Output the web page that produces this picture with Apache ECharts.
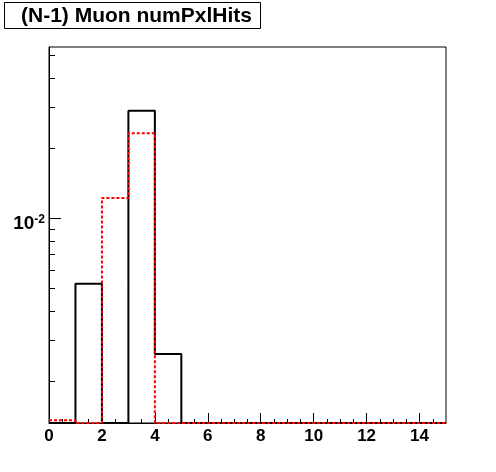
<!DOCTYPE html>
<html><head><meta charset="utf-8">
<script src="https://cdn.jsdelivr.net/npm/echarts@6/dist/echarts.min.js"></script>
<style>html,body{margin:0;padding:0;background:#fff}#c{width:496px;height:472px}</style>
</head><body><div id="c"></div>
<script>
// ---- data ----
const binEdges = [0,1,2,3,4,5,6,7,8,9,10,11,12,13,14,15];
const blackValues = [0, 0.00524, 0, 0.0289, 0.00262, 0, 0, 0, 0, 0, 0, 0, 0, 0, 0];
const redValues   = [0.00136, 0, 0.01222, 0.02314, 0, 0, 0, 0, 0, 0, 0, 0, 0, 0, 0];
const xMajorTicks = [0, 2, 4, 6, 8, 10, 12, 14];
const xMinorTicks = [0.5,1,1.5,2.5,3,3.5,4.5,5,5.5,6.5,7,7.5,8.5,9,9.5,10.5,11,11.5,12.5,13,13.5,14.5];
const yMajorTicks = [0.01];
const yMinorTicks = [0.002,0.003,0.004,0.005,0.006,0.007,0.008,0.009,0.02,0.03,0.04,0.05];
const titleText = '(N-1) Muon numPxlHits';
const Y_MIN = 1.325e-3, Y_MAX = 0.0543;
const X_MIN = 0, X_MAX = 15;

function stepData(values) {
  const pts = [];
  for (let i = 0; i < values.length; i++) {
    const v = values[i] > Y_MIN ? values[i] : Y_MIN;
    pts.push([binEdges[i], v], [binEdges[i + 1], v]);
  }
  return pts;
}

const FONT = '"Liberation Sans", Arial, Helvetica, sans-serif';
const chart = echarts.init(document.getElementById('c'), null, {renderer: 'canvas'});
const baseX = {type: 'value', min: X_MIN, max: X_MAX, position: 'bottom', splitLine: {show: false}};
const baseY = {type: 'log', logBase: 10, min: Y_MIN, max: Y_MAX, position: 'left', splitLine: {show: false}};
chart.setOption({
  animation: false,
  backgroundColor: '#fff',
  grid: {left: 49, top: 47, width: 397, height: 376, show: true, borderColor: '#000', borderWidth: 1, backgroundColor: 'transparent'},
  xAxis: [
    Object.assign({}, baseX, {
      axisLine: {show: true, lineStyle: {color: '#000', width: 1}},
      axisTick: {show: true, inside: true, length: 10, customValues: xMajorTicks, lineStyle: {color: '#000', width: 1}},
      axisLabel: {show: true, customValues: xMajorTicks, margin: 5, color: '#000', fontSize: 17, fontWeight: 'bold', fontFamily: FONT}
    }),
    Object.assign({}, baseX, {
      axisLine: {show: false},
      axisTick: {show: true, inside: true, length: 4, customValues: xMinorTicks, lineStyle: {color: '#000', width: 1}},
      axisLabel: {show: false}
    })
  ],
  yAxis: [
    Object.assign({}, baseY, {
      axisLine: {show: true, lineStyle: {color: '#000', width: 1}},
      axisTick: {show: true, inside: true, length: 12, customValues: yMajorTicks, lineStyle: {color: '#000', width: 1}},
      axisLabel: {
        show: true, customValues: yMajorTicks, margin: 4, color: '#000', padding: [10, 0, 0, 0],
        formatter: function (v) { return '{b|10}{s|' + Math.round(Math.log10(v)) + '}'; },
        rich: {
          b: {fontSize: 19, fontWeight: 'bold', fontFamily: FONT, color: '#000', verticalAlign: 'bottom', lineHeight: 19},
          s: {fontSize: 12, fontWeight: 'bold', fontFamily: FONT, color: '#000', verticalAlign: 'top', lineHeight: 19}
        }
      }
    }),
    Object.assign({}, baseY, {
      axisLine: {show: false},
      axisTick: {show: true, inside: true, length: 6, customValues: yMinorTicks, lineStyle: {color: '#000', width: 1}},
      axisLabel: {show: false}
    })
  ],
  series: [
    {type: 'line', xAxisIndex: 0, yAxisIndex: 0, data: stepData(blackValues), showSymbol: false, symbol: 'none',
     lineStyle: {color: '#000', width: 2}, clip: true, z: 3},
    {type: 'line', xAxisIndex: 0, yAxisIndex: 0, data: stepData(redValues), showSymbol: false, symbol: 'none',
     lineStyle: {color: '#ff0000', width: 2, type: [3, 2]}, clip: true, z: 4}
  ],
  graphic: [
    {type: 'rect', left: 4, top: 2, shape: {x: 0, y: 0, width: 256, height: 26}, z: 10,
     style: {fill: '#fff', stroke: '#000', lineWidth: 1}},
    {type: 'text', x: 21, y: 16, z: 11,
     style: {text: titleText, font: 'bold 21px ' + FONT, fill: '#000', verticalAlign: 'middle', align: 'left'}}
  ]
});
</script>
</body></html>
